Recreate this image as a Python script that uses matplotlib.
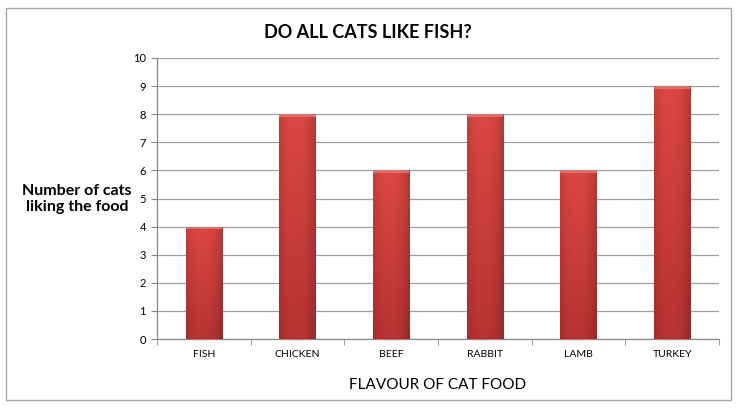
import numpy as np
import matplotlib
matplotlib.use("Agg")
import matplotlib.pyplot as plt
from matplotlib.patches import Rectangle

categories = ["FISH", "CHICKEN", "BEEF", "RABBIT", "LAMB", "TURKEY"]
values = [4, 8, 6, 8, 6, 9]
yticks = list(range(0, 11))

title = "DO ALL CATS LIKE FISH?"
ylabel = "Number of cats\nliking the food"
xlabel = "FLAVOUR OF CAT FOOD"

plt.rcParams['font.family'] = ['Lato', 'DejaVu Sans']

W, H = 738, 409
fig = plt.figure(figsize=(W / 100, H / 100), dpi=100)
fig.patch.set_facecolor('white')

# outer chart border
fig.add_artist(Rectangle((6.5 / W, 1 - 399.5 / H), (731 - 6.5) / W, (399.5 - 8) / H,
                         transform=fig.transFigure, fill=False, edgecolor='#a6a6a6', lw=1.0))

ax = fig.add_axes([157 / W, 1 - 339 / H, (719 - 157) / W, (339 - 58) / H])
x = np.arange(len(categories))
bar_w = 0.39

# gradient image for bars
nx, ny = 64, 64
u = np.linspace(0, 1, nx)
prof = 1 - 0.9 * np.abs(u - 0.45) ** 2.5
prof = np.clip(prof, 0.78, 1.0)
top = np.array([0.86, 0.28, 0.26])
bot = np.array([0.72, 0.20, 0.20])
v = np.linspace(0, 1, ny)[:, None, None]
base = bot + (top - bot) * v
img = base * prof[None, :, None]
img = np.clip(img, 0, 1)

bars = ax.bar(x, values, width=bar_w, color='#d44440', edgecolor='none', zorder=2)
for b in bars:
    x0, y0 = b.get_x(), b.get_y()
    w, h = b.get_width(), b.get_height()
    im = ax.imshow(img, extent=(x0, x0 + w, y0, y0 + h), origin='lower',
                   aspect='auto', zorder=3, interpolation='bilinear')
    im.set_clip_path(b)
    # top bevel highlight
    ax.add_patch(Rectangle((x0, y0 + h - 0.09), w, 0.09, facecolor='#e86a64',
                           edgecolor='none', zorder=4))

ax.set_xlim(-0.5, len(categories) - 0.5)
ax.set_ylim(0, 10)
ax.set_yticks(yticks)
ax.set_xticks(x)
ax.set_xticklabels(categories, fontsize=7.5)
ax.tick_params(axis='y', labelsize=8, length=4, color='#888888', pad=4)
ax.tick_params(axis='x', length=0, pad=8)
ax.set_xticks(np.arange(-0.5, len(categories), 1), minor=True)
ax.tick_params(axis='x', which='minor', length=4, color='#888888')
ax.yaxis.grid(True, color='#a0a0a0', lw=0.9, zorder=0)
ax.set_axisbelow(True)
for s in ['top', 'right']:
    ax.spines[s].set_visible(False)
for s in ['left', 'bottom']:
    ax.spines[s].set_color('#888888')
    ax.spines[s].set_linewidth(0.9)

fig.text(368 / W, 1 - 32 / H, title, ha='center', va='center',
         fontsize=13, fontweight='bold')
fig.text(77 / W, 1 - 199 / H, ylabel, ha='center', va='center',
         fontsize=11.5, fontweight='bold', linespacing=1.15)
fig.text(438 / W, 1 - 385 / H, xlabel, ha='center', va='center', fontsize=11)

fig.savefig("out.png", dpi=100, facecolor='white')
